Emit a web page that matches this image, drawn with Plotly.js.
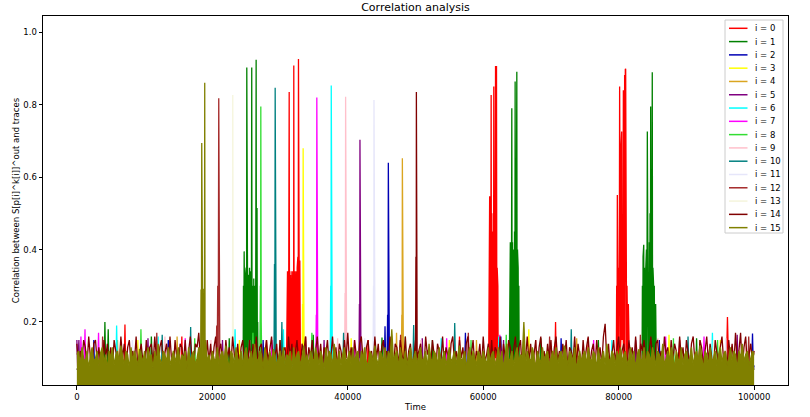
<!DOCTYPE html>
<html>
<head>
<meta charset="utf-8">
<script src="https://cdn.plot.ly/plotly-3.0.1.min.js"></script>
<style>html,body{margin:0;padding:0;background:#fff}#chart{width:810px;height:417px}</style>
</head>
<body>
<div id="chart"></div>
<script>
// ---------------- data ----------------
const labels = ["i = 0","i = 1","i = 2","i = 3","i = 4","i = 5","i = 6","i = 7","i = 8","i = 9","i = 10","i = 11","i = 12","i = 13","i = 14","i = 15"];
const colors = ["#ff0000","#008000","#0000b4","#ffff00","#daa520","#800080","#00ffff","#ff00ff","#33dd33","#ffc0cb","#008080","#e6e6fa","#a52a2a","#f5f5dc","#800000","#808000"];
const xTickValues = [0,20000,40000,60000,80000,100000];
const xTickLabels = ["0","20000","40000","60000","80000","100000"];
const yTickValues = [0.2,0.4,0.6,0.8,1.0];
const yTickLabels = ["0.2","0.4","0.6","0.8","1.0"];

// [time, correlation] vertices, per key byte i
const trace0 = [[0,0.07],[6980,0.06],[7100,0.193],[7220,0.07],[15380,0.08],[15500,0.16],[15620,0.06],[27880,0.07],[28000,0.15],[28120,0.08],
 [30950,0.08],[31000,0.33],[31050,0.09],[31100,0.34],[31150,0.1],[31200,0.33],[31250,0.09],[31300,0.34],[31350,0.835],[31400,0.1],[31450,0.34],[31500,0.09],[31550,0.33],[31600,0.1],[31650,0.34],[31700,0.09],[31750,0.34],[31800,0.1],[31850,0.33],[31900,0.09],[31950,0.34],[32000,0.1],[32030,0.908],[32080,0.09],[32130,0.34],[32180,0.1],[32230,0.33],[32280,0.09],[32330,0.34],[32380,0.1],[32430,0.33],[32480,0.09],[32530,0.35],[32580,0.1],[32630,0.38],[32680,0.09],[32720,0.926],[32770,0.1],[32820,0.38],[32870,0.09],[32920,0.37],[32970,0.1],[33020,0.07],
 [42880,0.06],[43000,0.15],[43120,0.07],[56380,0.08],[56500,0.16],[56620,0.06],
 [60800,0.08],[60850,0.5],[60900,0.09],[60950,0.547],[61000,0.1],[61050,0.54],[61100,0.09],[61140,0.52],[61170,0.827],[61220,0.1],[61270,0.5],[61320,0.09],[61370,0.45],[61420,0.1],[61470,0.4],[61520,0.09],[61560,0.85],[61610,0.1],[61660,0.38],[61710,0.09],[61760,0.45],[61820,0.907],[61870,0.1],[61920,0.5],[61960,0.907],[62010,0.09],[62060,0.35],[62110,0.1],[62160,0.3],[62210,0.07],
 [70560,0.07],[70680,0.20],[70800,0.06],[75380,0.08],[75500,0.155],[75620,0.07],
 [79650,0.08],[79700,0.3],[79750,0.09],[79800,0.551],[79850,0.1],[79900,0.32],[79950,0.09],[80000,0.35],[80050,0.1],[80100,0.4],[80140,0.85],[80190,0.1],[80240,0.35],[80290,0.09],[80340,0.68],[80390,0.1],[80440,0.726],[80490,0.09],[80540,0.33],[80590,0.1],[80640,0.4],[80690,0.84],[80740,0.09],[80790,0.35],[80840,0.1],[80880,0.882],[80930,0.09],[80980,0.898],[81030,0.899],[81080,0.1],[81130,0.32],[81180,0.09],[81230,0.3],[81280,0.1],[81330,0.28],[81380,0.09],[81430,0.25],[81480,0.1],[81530,0.2],[81580,0.09],[81650,0.07],
 [88880,0.06],[89000,0.15],[89120,0.08],[95900,0.07],[95960,0.17],[96060,0.214],[96140,0.15],[96220,0.07],[100000,0.07]];
const trace1 = [[0,0.07],[4020,0.06],[4140,0.20],[4260,0.07],[4510,0.08],[4630,0.18],[4750,0.06],[10880,0.07],[11000,0.16],[11120,0.08],[22380,0.06],[22500,0.155],[22620,0.07],
 [24550,0.08],[24600,0.3],[24650,0.09],[24700,0.395],[24750,0.1],[24800,0.36],[24850,0.09],[24900,0.33],[24950,0.1],[25000,0.35],[25050,0.09],[25090,0.903],[25140,0.1],[25190,0.34],[25240,0.09],[25290,0.32],[25340,0.1],[25390,0.33],[25440,0.09],[25490,0.35],[25540,0.1],[25590,0.32],[25640,0.09],[25690,0.34],[25740,0.1],[25780,0.36],[25820,0.903],[25870,0.09],[25920,0.33],[25970,0.1],[26020,0.3],[26070,0.09],[26120,0.32],[26170,0.1],[26220,0.28],[26270,0.09],[26320,0.3],[26370,0.1],[26420,0.4],[26470,0.924],[26520,0.09],[26560,0.3],[26600,0.515],[26650,0.1],[26700,0.2],[26750,0.07],
 [34780,0.08],[34900,0.165],[35020,0.06],[44930,0.07],[45050,0.157],[45170,0.08],[52380,0.06],[52500,0.15],[52620,0.07],
 [63850,0.08],[63900,0.35],[63950,0.09],[64000,0.42],[64050,0.1],[64100,0.427],[64150,0.09],[64220,0.79],[64270,0.1],[64320,0.42],[64370,0.09],[64420,0.4],[64470,0.1],[64520,0.43],[64570,0.09],[64620,0.45],[64670,0.1],[64710,0.864],[64760,0.09],[64810,0.5],[64860,0.1],[64910,0.6],[64960,0.891],[65010,0.09],[65060,0.4],[65110,0.1],[65160,0.35],[65210,0.09],[65260,0.3],[65310,0.1],[65360,0.07],
 [68380,0.08],[68500,0.155],[68620,0.06],[76880,0.07],[77000,0.15],[77120,0.08],
 [83450,0.08],[83500,0.3],[83550,0.09],[83600,0.38],[83650,0.1],[83700,0.413],[83750,0.09],[83800,0.35],[83850,0.1],[83900,0.32],[83950,0.09],[84000,0.35],[84050,0.1],[84100,0.4],[84150,0.09],[84230,0.726],[84280,0.1],[84330,0.35],[84380,0.09],[84430,0.33],[84480,0.1],[84530,0.42],[84580,0.09],[84630,0.5],[84680,0.1],[84720,0.795],[84770,0.09],[84820,0.45],[84870,0.1],[84920,0.55],[84960,0.89],[85010,0.09],[85060,0.35],[85110,0.1],[85160,0.3],[85210,0.09],[85260,0.3],[85310,0.1],[85360,0.22],[85410,0.09],[85460,0.25],[85510,0.1],[85560,0.07],
 [91380,0.06],[91500,0.155],[91620,0.07],[100000,0.07]];
const trace2 = [[0,0.07],[2380,0.07],[2500,0.15],[2620,0.06],[13380,0.08],[13500,0.15],[13620,0.07],[27380,0.06],[27500,0.15],[27620,0.08],[45380,0.07],[45500,0.188],[45620,0.06],[45800,0.08],[45880,0.22],[45940,0.1],[45990,0.64],[46050,0.2],[46150,0.07],[57250,0.07],[57370,0.17],[57490,0.06],[62480,0.08],[62600,0.16],[62720,0.07],[71380,0.06],[71500,0.155],[71620,0.08],[85880,0.07],[86000,0.15],[86120,0.06],[99640,0.08],[99760,0.168],[99880,0.07],[100000,0.08]];
const trace3 = [[0,0.07],[8880,0.06],[9000,0.15],[9120,0.07],[23880,0.08],[24000,0.15],[24120,0.06],[33250,0.07],[33320,0.25],[33370,0.1],[33410,0.68],[33470,0.2],[33560,0.07],[40380,0.06],[40500,0.155],[40620,0.08],[54880,0.07],[55000,0.15],[55120,0.06],[66610,0.08],[66730,0.18],[66850,0.07],[87310,0.06],[87430,0.165],[87550,0.08],[94880,0.07],[95000,0.15],[95120,0.06],[100000,0.07]];
const trace4 = [[0,0.07],[5880,0.08],[6000,0.15],[6120,0.06],[14680,0.07],[14800,0.16],[14920,0.08],[29880,0.06],[30000,0.15],[30120,0.07],[47080,0.08],[47200,0.17],[47320,0.06],[47900,0.07],[47980,0.22],[48020,0.1],[48060,0.652],[48120,0.18],[48220,0.07],[58880,0.06],[59000,0.15],[59120,0.08],[73680,0.07],[73800,0.155],[73920,0.06],[91880,0.08],[92000,0.15],[92120,0.07],[100000,0.07]];
const trace5 = [[0,0.15],[120,0.07],[300,0.15],[420,0.06],[10380,0.08],[10500,0.155],[10620,0.07],[21380,0.06],[21500,0.15],[21620,0.08],[36380,0.07],[36500,0.15],[36620,0.06],[41650,0.08],[41720,0.25],[41760,0.1],[41800,0.703],[41860,0.2],[41950,0.07],[50880,0.06],[51000,0.155],[51120,0.07],[62880,0.08],[63000,0.15],[63120,0.06],[82380,0.07],[82500,0.15],[82620,0.08],[97380,0.06],[97500,0.165],[97620,0.07],[100000,0.07]];
const trace6 = [[0,0.07],[5750,0.06],[5870,0.19],[5990,0.08],[11880,0.07],[12000,0.16],[12120,0.06],[23240,0.08],[23360,0.18],[23480,0.07],[30380,0.06],[30500,0.18],[30620,0.08],[37400,0.07],[37480,0.3],[37520,0.1],[37560,0.853],[37620,0.22],[37720,0.07],[43880,0.06],[44000,0.15],[44120,0.08],[53680,0.07],[53800,0.155],[53920,0.06],[62180,0.08],[62300,0.16],[62420,0.07],[78880,0.06],[79000,0.15],[79120,0.08],[93720,0.07],[93840,0.17],[93960,0.06],[100000,0.07]];
const trace7 = [[0,0.07],[480,0.06],[600,0.16],[720,0.08],[1080,0.07],[1200,0.18],[1320,0.06],[3080,0.08],[3200,0.17],[3320,0.07],[15880,0.06],[16000,0.155],[16120,0.08],[28680,0.07],[28800,0.15],[28920,0.06],[35280,0.08],[35350,0.22],[35390,0.1],[35430,0.82],[35490,0.2],[35580,0.07],[40880,0.06],[41000,0.15],[41120,0.08],[54480,0.07],[54600,0.155],[54720,0.06],[62330,0.08],[62450,0.165],[62570,0.07],[76180,0.06],[76300,0.15],[76420,0.08],[86820,0.07],[86940,0.16],[87060,0.06],[92480,0.08],[92600,0.16],[92720,0.07],[100000,0.07]];
const trace8 = [[0,0.07],[9340,0.06],[9460,0.18],[9580,0.08],[17280,0.07],[17400,0.155],[17520,0.06],[25880,0.08],[26000,0.17],[26120,0.07],[27000,0.07],[27060,0.17],[27100,0.3],[27130,0.1],[27160,0.795],[27220,0.2],[27320,0.06],[34580,0.08],[34700,0.17],[34820,0.07],[48380,0.06],[48500,0.16],[48620,0.08],[58080,0.07],[58200,0.15],[58320,0.06],[63280,0.08],[63400,0.165],[63520,0.07],[87960,0.06],[88080,0.155],[88200,0.08],[94480,0.07],[94600,0.15],[94720,0.06],[100000,0.07]];
const trace9 = [[0,0.07],[12880,0.06],[13000,0.16],[13120,0.08],[19680,0.07],[19800,0.15],[19920,0.06],[38380,0.08],[38500,0.155],[38620,0.07],[39520,0.06],[39600,0.28],[39640,0.1],[39680,0.822],[39740,0.22],[39840,0.07],[50680,0.08],[50800,0.15],[50920,0.06],[67680,0.07],[67800,0.15],[67920,0.08],[85680,0.06],[85800,0.155],[85920,0.07],[98680,0.08],[98800,0.15],[98920,0.06],[100000,0.07]];
const trace10 = [[0,0.07],[12480,0.06],[12600,0.165],[12720,0.08],[16680,0.07],[16800,0.186],[16920,0.06],[29100,0.08],[29180,0.36],[29230,0.1],[29280,0.847],[29340,0.25],[29440,0.07],[30150,0.06],[30270,0.20],[30390,0.08],[39260,0.07],[39380,0.17],[39500,0.06],[49610,0.08],[49730,0.192],[49850,0.07],[55670,0.06],[55790,0.197],[55910,0.08],[72880,0.07],[73000,0.18],[73120,0.06],[90120,0.08],[90240,0.16],[90360,0.07],[100000,0.07]];
const trace11 = [[0,0.07],[8080,0.06],[8200,0.15],[8320,0.08],[25380,0.07],[25500,0.15],[25620,0.06],[42380,0.08],[42500,0.155],[42620,0.07],[43720,0.06],[43800,0.3],[43840,0.1],[43870,0.813],[43930,0.22],[44030,0.07],[59880,0.08],[60000,0.15],[60120,0.06],[81380,0.07],[81500,0.15],[81620,0.08],[95680,0.06],[95800,0.155],[95920,0.07],[100000,0.07]];
const trace12 = [[0,0.07],[3680,0.06],[3800,0.16],[3920,0.08],[11680,0.07],[11800,0.17],[11920,0.06],[20530,0.08],[20650,0.19],[20720,0.1],[20800,0.3],[20870,0.1],[20950,0.818],[21010,0.22],[21110,0.07],[33680,0.06],[33800,0.16],[33920,0.08],[47680,0.07],[47800,0.165],[47920,0.06],[57680,0.08],[57800,0.17],[57920,0.07],[69680,0.06],[69800,0.16],[69920,0.08],[83080,0.07],[83200,0.165],[83320,0.06],[99080,0.08],[99200,0.16],[99320,0.07],[100000,0.07]];
const trace13 = [[0,0.07],[8680,0.06],[8800,0.15],[8920,0.08],[22680,0.07],[22800,0.16],[22920,0.06],[22960,0.07],[23000,0.3],[23010,0.1],[23020,0.827],[23080,0.2],[23180,0.07],[36880,0.08],[37000,0.15],[37120,0.06],[51880,0.07],[52000,0.15],[52120,0.08],[66380,0.06],[66500,0.16],[66620,0.07],[80380,0.08],[80500,0.15],[80620,0.06],[93880,0.07],[94000,0.15],[94120,0.08],[100000,0.07]];

// i = 14 and i = 15: values at evenly spaced time samples from 0 to 100000, plus their peaks
const timeEnd = 100000;
const corr14 = [
 0.14,0.07,0.12,0.09,0.15,0.13,0.08,0.16,0.10,0.07,0.14,0.15,0.09,0.13,0.08,0.06,0.15,0.10,0.14,0.08,
 0.13,0.07,0.15,0.12,0.09,0.08,0.16,0.10,0.14,0.07,0.13,0.15,0.08,0.12,0.09,0.16,0.07,0.11,0.14,0.09,
 0.07,0.15,0.09,0.13,0.14,0.08,0.16,0.10,0.07,0.13,0.15,0.09,0.12,0.14,0.08,0.16,0.09,0.07,0.15,0.10,
 0.08,0.14,0.13,0.09,0.15,0.07,0.12,0.16,0.10,0.08,0.14,0.13,0.17,0.09,0.11,0.10,0.08,0.15,0.09,0.14,
 0.07,0.13,0.16,0.08,0.12,0.14,0.09,0.07,0.15,0.10,0.13,0.08,0.16,0.11,0.09,0.14,0.07,0.13,0.15,0.08,
 0.12,0.09,0.15,0.07,0.14,0.10,0.16,0.08,0.13,0.14,0.07,0.11,0.15,0.09,0.12,0.16,0.08,0.10,0.14,0.07,
 0.15,0.09,0.12,0.13,0.07,0.16,0.10,0.14,0.08,0.12,0.15,0.09,0.07,0.14,0.11,0.16,0.08,0.13,0.10,0.15,
 0.08,0.12,0.16,0.09,0.14,0.07,0.13,0.11,0.15,0.08,0.10,0.16,0.09,0.13,0.07,0.14,0.12,0.08,0.15,0.10,
 0.17,0.09,0.13,0.07,0.15,0.11,0.08,0.14,0.16,0.10,0.07,0.13,0.15,0.09,0.12,0.08,0.16,0.10,0.14,0.07,
 0.13,0.15,0.08,0.12,0.10,0.16,0.09,0.07,0.14,0.13,0.08,0.15,0.11,0.09,0.16,0.07,0.12,0.14,0.08,0.10,
 0.15,0.08,0.12,0.14,0.09,0.07,0.16,0.11,0.13,0.08,0.15,0.10,0.07,0.14,0.12,0.09,0.16,0.08,0.13,0.11,
 0.07,0.14,0.16,0.09,0.12,0.08,0.15,0.10,0.13,0.07,0.14,0.16,0.09,0.11,0.15,0.08,0.12,0.10,0.14,0.07,
 0.16,0.09,0.11,0.14,0.08,0.15,0.07,0.13,0.12,0.09,0.16,0.08,0.14,0.10,0.07,0.15,0.13,0.09,0.12,0.16,
 0.08,0.13,0.15,0.07,0.12,0.10,0.16,0.09,0.14,0.08,0.11,0.15,0.07,0.13,0.16,0.09,0.12,0.08,0.14,0.10,
 0.15,0.07,0.13,0.16,0.09,0.12,0.08,0.14,0.10,0.15,0.07,0.13,0.12,0.09,0.16,0.08,0.14,0.11,0.07,0.15,
 0.09,0.13,0.16,0.08,0.12,0.14,0.07,0.15,0.10,0.13,0.08,0.16,0.195,0.09,0.14,0.07,0.12,0.15,0.09,0.13,
 0.16,0.08,0.12,0.14,0.09,0.07,0.15,0.11,0.13,0.08,0.16,0.10,0.07,0.14,0.12,0.15,0.09,0.08,0.13,0.16,
 0.10,0.07,0.14,0.15,0.09,0.12,0.08,0.16,0.11,0.13,0.07,0.15,0.09,0.14,0.12,0.08,0.16,0.10,0.13,0.07,
 0.15,0.12,0.08,0.14,0.16,0.09,0.11,0.07,0.15,0.13,0.08,0.12,0.16,0.09,0.14,0.10,0.07,0.15,0.12,0.08,
 0.13,0.16,0.09,0.12,0.07,0.15,0.10,0.14,0.08,0.17,0.09,0.12,0.17,0.07,0.13,0.16,0.08,0.11,0.14,0.09,
 0.12];
const peaks14 = [[50000,0.09],[50060,0.38],[50100,0.1],[50130,0.835],[50190,0.30],[50250,0.10]];
const corr15 = [
 0.11,0.12,0.08,0.13,0.10,0.09,0.12,0.07,0.11,0.13,0.09,0.10,0.12,0.08,0.115,0.13,0.09,0.11,0.07,0.12,
 0.10,0.13,0.08,0.11,0.12,0.09,0.135,0.10,0.08,0.12,0.11,0.07,0.13,0.09,0.12,0.10,0.08,0.125,0.11,0.09,
 0.12,0.08,0.13,0.10,0.11,0.07,0.12,0.09,0.14,0.10,0.08,0.12,0.11,0.09,0.13,0.08,0.10,0.12,0.09,0.115,
 0.13,0.08,0.11,0.10,0.12,0.07,0.13,0.09,0.11,0.12,0.08,0.10,0.13,0.12,0.29,0.29,0.15,0.09,0.11,0.08,
 0.12,0.10,0.09,0.13,0.08,0.11,0.12,0.09,0.135,0.10,0.07,0.12,0.11,0.08,0.13,0.10,0.09,0.12,0.08,0.11,
 0.13,0.09,0.10,0.12,0.08,0.14,0.10,0.09,0.12,0.11,0.07,0.13,0.10,0.08,0.12,0.09,0.125,0.11,0.08,0.10,
 0.12,0.09,0.13,0.08,0.11,0.10,0.12,0.07,0.13,0.09,0.11,0.12,0.08,0.10,0.135,0.09,0.11,0.08,0.12,0.10,
 0.09,0.13,0.11,0.08,0.12,0.10,0.07,0.13,0.09,0.12,0.11,0.08,0.14,0.10,0.09,0.12,0.08,0.11,0.13,0.09,
 0.10,0.12,0.08,0.13,0.09,0.11,0.12,0.07,0.12,0.10,0.13,0.09,0.08,0.12,0.11,0.09,0.135,0.10,0.08,0.12,
 0.11,0.09,0.13,0.08,0.12,0.10,0.18,0.09,0.11,0.12,0.07,0.13,0.10,0.09,0.12,0.08,0.11,0.13,0.09,0.10,
 0.12,0.08,0.11,0.13,0.09,0.10,0.12,0.07,0.14,0.10,0.09,0.12,0.11,0.08,0.13,0.09,0.10,0.12,0.08,0.11,
 0.13,0.09,0.10,0.12,0.08,0.11,0.135,0.09,0.10,0.12,0.07,0.11,0.13,0.09,0.12,0.10,0.08,0.12,0.11,0.09,
 0.12,0.10,0.08,0.13,0.09,0.11,0.12,0.08,0.10,0.13,0.09,0.12,0.07,0.11,0.14,0.09,0.10,0.12,0.08,0.11,
 0.13,0.09,0.11,0.10,0.20,0.08,0.12,0.10,0.09,0.13,0.11,0.07,0.12,0.10,0.085,0.13,0.09,0.11,0.12,0.08,
 0.10,0.12,0.09,0.13,0.08,0.11,0.12,0.09,0.135,0.10,0.08,0.12,0.11,0.09,0.13,0.07,0.10,0.12,0.09,0.11,
 0.12,0.08,0.13,0.10,0.09,0.12,0.11,0.07,0.13,0.09,0.10,0.12,0.08,0.14,0.10,0.09,0.12,0.11,0.08,0.12,
 0.10,0.13,0.09,0.11,0.12,0.08,0.10,0.13,0.09,0.12,0.07,0.11,0.125,0.09,0.10,0.13,0.08,0.12,0.11,0.09,
 0.13,0.10,0.08,0.12,0.11,0.09,0.14,0.08,0.10,0.12,0.09,0.13,0.11,0.07,0.12,0.10,0.09,0.13,0.08,0.11,
 0.12,0.09,0.10,0.13,0.08,0.11,0.12,0.09,0.135,0.10,0.07,0.12,0.11,0.08,0.13,0.09,0.10,0.12,0.08,0.11,
 0.13,0.09,0.11,0.12,0.08,0.10,0.13,0.09,0.12,0.11,0.07,0.12,0.10,0.14,0.09,0.11,0.12,0.08,0.10,0.12,
 0.11];
const peaks15 = [[18280,0.10],[18330,0.29],[18380,0.1],[18440,0.694],[18490,0.1],[18540,0.29],[18600,0.1],[18660,0.28],[18720,0.1],[18780,0.29],[18830,0.1],[18880,0.861],[18930,0.1],[18990,0.11]];

// ---------------- build ----------------
const LINE_W = 1.3;
const pairSeries = [trace0,trace1,trace2,trace3,trace4,trace5,trace6,trace7,trace8,trace9,trace10,trace11,trace12,trace13];
function merged(values, peaks){
  const step = timeEnd/(values.length-1);
  const pts = values.map((v,k)=>[k*step, v]).concat(peaks);
  pts.sort((a,b)=>a[0]-b[0]);
  return pts;
}
pairSeries.push(merged(corr14, peaks14));
pairSeries.push(merged(corr15, peaks15));

const data = pairSeries.map((pts,i)=>{
  const tr = {type:'scatter', mode:'lines', x:pts.map(p=>p[0]), y:pts.map(p=>p[1]),
    line:{color:colors[i], width:LINE_W}, hoverinfo:'skip', showlegend:false, name:labels[i]};
  if(i===15){ tr.fill='tozeroy'; tr.fillcolor=colors[i]; }
  return tr;
});

// plot box in pixels
const W=810, H=417, L=43, R=788, T=16, B=385;
const px = x => (x-L)/(R-L);
const py = y => (B-y)/(B-T);

// legend (matplotlib-style, inside axes, upper right)
const legBox = {x0:725, x1:783, y0:20, y1:233};
const legFirst = 28.3, legGap = 13.29, legLine0 = 729, legLine1 = 747.5, legText = 752.5;
const shapes = [{type:'rect', xref:'paper', yref:'paper', x0:px(legBox.x0), x1:px(legBox.x1), y0:py(legBox.y1), y1:py(legBox.y0),
  line:{color:'#cccccc', width:1}, fillcolor:'#ffffff', layer:'above'}];
const annotations = [];
labels.forEach((lab,i)=>{
  const yy = py(legFirst + i*legGap);
  shapes.push({type:'line', xref:'paper', yref:'paper', x0:px(legLine0), x1:px(legLine1), y0:yy, y1:yy,
    line:{color:colors[i], width:1.5}, layer:'above'});
  annotations.push({xref:'paper', yref:'paper', x:px(legText), y:yy, xanchor:'left', yanchor:'middle',
    text:lab, showarrow:false, font:{size:8.5, color:'#000'}});
});

const layout = {
  width:W, height:H,
  margin:{l:L, r:W-R, t:T, b:H-B, pad:0},
  paper_bgcolor:'#ffffff', plot_bgcolor:'#ffffff',
  font:{family:'DejaVu Sans, sans-serif', size:8.5, color:'#000'},
  showlegend:false,
  title:{text:'Correlation analysis', font:{size:11, color:'#000'}, x:0.5, xref:'paper', xanchor:'center', y:1-7.5/H, yref:'container', yanchor:'middle'},
  xaxis:{range:[-5000,105000], tickmode:'array', tickvals:xTickValues, ticktext:xTickLabels,
    ticks:'outside', ticklen:3.5, tickwidth:1, tickcolor:'#000', showline:true, mirror:true, linecolor:'#000', linewidth:1,
    showgrid:false, zeroline:false, tickfont:{size:8.5},
    title:{text:'Time', font:{size:8.5}, standoff:3}},
  yaxis:{range:[0.026,1.045], tickmode:'array', tickvals:yTickValues, ticktext:yTickLabels,
    ticks:'outside', ticklen:3.5, tickwidth:1, tickcolor:'#000', showline:true, mirror:true, linecolor:'#000', linewidth:1,
    showgrid:false, zeroline:false, tickfont:{size:8.5},
    title:{text:'Correlation between S[p[i]^k[i]]^out and traces', font:{size:8.5}, standoff:2}},
  shapes:shapes, annotations:annotations
};

Plotly.newPlot('chart', data, layout, {staticPlot:true, displayModeBar:false});
</script>
</body>
</html>
